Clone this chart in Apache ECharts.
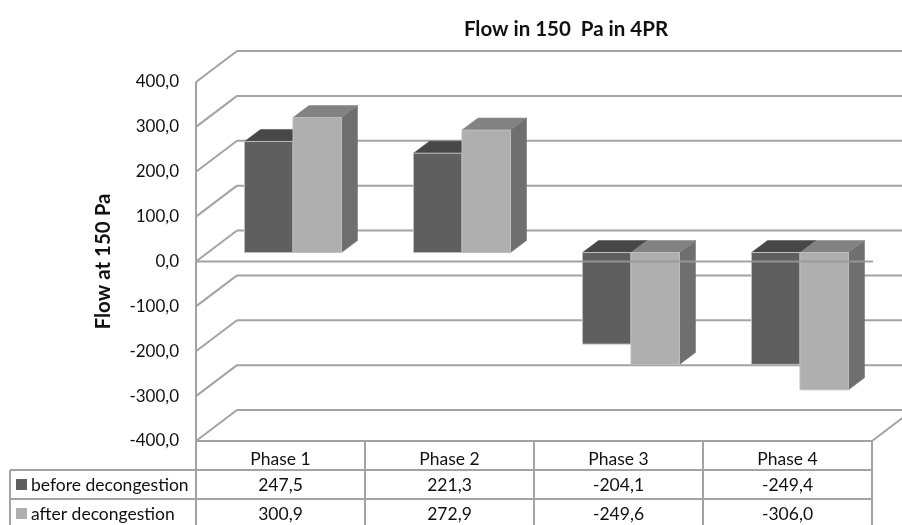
<!DOCTYPE html>
<html>
<head>
<meta charset="utf-8">
<style>html,body{margin:0;padding:0;background:#fff}#c{width:902px;height:525px}</style>
<script src="https://cdn.jsdelivr.net/npm/echarts@6/dist/echarts.min.js"></script>
</head>
<body>
<div id="c"></div>
<script>
const categories = ['Phase 1', 'Phase 2', 'Phase 3', 'Phase 4'];
const before = [247.5, 221.3, -204.1, -249.4];
const after = [300.9, 272.9, -249.6, -306.0];
const seriesNames = ['before decongestion', 'after decongestion'];
const ticks = [400, 300, 200, 100, 0, -100, -200, -300, -400];

const FONT = 'Lato, Carlito, "Open Sans", sans-serif';
const GRID = '#a3a3a3', INK = '#111111';
const WALL_DX = 41, WALL_DY = -31;
const BAR_DX = 12.5, BAR_DY = -9, BAR_W = 48.5, DEPTH_DX = 16, DEPTH_DY = -12;
const ROWS_Y = [470, 499, 527];
const TABLE_LEFT = 10;
const TEXT_SIZE = 17.5, BOLD_SIZE = 20.5;
const comma = v => v.toFixed(1).replace('.', ',');

function line(x1, y1, x2, y2, w) {
  return { type: 'line', shape: { x1, y1, x2, y2 }, style: { stroke: GRID, lineWidth: w || 2 } };
}
function poly(points, fill, stroke) {
  return { type: 'polygon', shape: { points }, style: { fill, stroke: stroke || fill, lineWidth: stroke ? 1 : 0.5 } };
}
function txt(x, y, text, align) {
  return { type: 'text', style: { x, y, text, fill: INK, font: TEXT_SIZE + 'px ' + FONT, align: align || 'center', verticalAlign: 'middle' } };
}
function barRender(side, front, top, sideCol) {
  return function (params, api) {
    const i = api.value(0), v = api.value(1);
    const c0 = api.coord([i, 0]), cv = api.coord([i, v]);
    const x0 = c0[0] + BAR_DX + (side === 0 ? -BAR_W : 0), x1 = x0 + BAR_W;
    const yT = Math.min(c0[1], cv[1]) + BAR_DY, yB = Math.max(c0[1], cv[1]) + BAR_DY;
    return { type: 'group', children: [
      poly([[x1, yT], [x1 + DEPTH_DX, yT + DEPTH_DY], [x1 + DEPTH_DX, yB + DEPTH_DY], [x1, yB]], sideCol),
      poly([[x0, yT], [x0 + DEPTH_DX, yT + DEPTH_DY], [x1 + DEPTH_DX, yT + DEPTH_DY], [x1, yT]], top),
      poly([[x0, yT], [x1, yT], [x1, yB], [x0, yB]], front, '#bdbdbd')
    ] };
  };
}

const chart = echarts.init(document.getElementById('c'), null, { renderer: 'canvas' });
chart.setOption({
  animation: false,
  backgroundColor: '#ffffff',
  title: {
    text: 'Flow in 150  Pa in 4PR', left: 561, top: 14, textAlign: 'center',
    textStyle: { fontFamily: FONT, fontSize: BOLD_SIZE, fontWeight: 'bold', color: INK }
  },
  grid: { left: 196, right: 30, top: 82, bottom: 84 },
  xAxis: {
    type: 'category', data: categories, position: 'bottom',
    axisLine: { show: false, onZero: false }, axisTick: { show: false },
    axisLabel: { margin: 9, fontFamily: FONT, fontSize: TEXT_SIZE, color: INK },
    splitLine: { show: false }
  },
  yAxis: {
    type: 'value', min: -400, max: 400, interval: 100,
    name: 'Flow at 150 Pa', nameLocation: 'middle', nameGap: 82, nameRotate: 90,
    nameTextStyle: { fontFamily: FONT, fontSize: BOLD_SIZE, fontWeight: 'bold', color: INK },
    axisLine: { show: false }, axisTick: { show: false }, splitLine: { show: false },
    axisLabel: { margin: 17, fontFamily: FONT, fontSize: 17, color: INK, formatter: comma, padding: [2, 0, 0, 0] }
  },
  series: [
    {
      name: 'walls', type: 'custom', z: 1, silent: true,
      data: ticks.map(t => [0, t]), encode: { x: 0, y: 1 },
      renderItem(params, api) {
        const c = api.coord([0, api.value(1)]);
        const cs = params.coordSys, L = cs.x, R = cs.x + cs.width;
        const kids = [
          line(L, c[1], L + WALL_DX, c[1] + WALL_DY),
          line(L + WALL_DX, c[1] + WALL_DY, R + WALL_DX, c[1] + WALL_DY)
        ];
        if (api.value(1) === -400) kids.push(line(L, c[1], R, c[1]), line(R, c[1], R + WALL_DX, c[1] + WALL_DY));
        return { type: 'group', children: kids };
      }
    },
    {
      name: seriesNames[0], type: 'custom', z: 3, silent: true,
      data: before.map((v, i) => [i, v]), encode: { x: 0, y: 1 },
      renderItem: barRender(0, '#5f5f5f', '#474747', '#474747')
    },
    {
      name: seriesNames[1], type: 'custom', z: 4, silent: true,
      data: after.map((v, i) => [i, v]), encode: { x: 0, y: 1 },
      renderItem: barRender(1, '#afafaf', '#828282', '#6f6f6f')
    },
    {
      name: 'zero plane', type: 'custom', z: 5, silent: true,
      data: [[0, 0]], encode: { x: 0, y: 1 },
      renderItem(params, api) {
        const c = api.coord([0, 0]), cs = params.coordSys;
        return { type: 'group', children: [
          { type: 'line', shape: { x1: cs.x, y1: c[1], x2: cs.x + cs.width + 1, y2: c[1] },
            style: { stroke: '#999999', lineWidth: 2, opacity: 0.9 } }
        ] };
      }
    },
    {
      name: 'table', type: 'custom', z: 6, silent: true,
      data: categories.map((n, i) => [i, before[i], after[i]]), encode: { x: 0, y: 1 },
      renderItem(params, api) {
        const i = api.value(0), cs = params.coordSys;
        const cx = api.coord([i, 0])[0], band = cs.width / categories.length;
        const right = cx + band / 2, bottom = ROWS_Y[2];
        const kids = [
          line(right, cs.y + cs.height, right, bottom),
          txt(cx, (ROWS_Y[0] + ROWS_Y[1]) / 2 + 1, comma(api.value(1))),
          txt(cx, (ROWS_Y[1] + ROWS_Y[2]) / 2 + 1, comma(api.value(2)))
        ];
        if (i === 0) {
          kids.push(
            line(cs.x, cs.y, cs.x, bottom),
            line(TABLE_LEFT, ROWS_Y[0], TABLE_LEFT, bottom)
          );
          ROWS_Y.slice(0, 2).forEach((y, r) => {
            kids.push(
              line(TABLE_LEFT, y, cs.x + cs.width, y),
              { type: 'rect', shape: { x: 16, y: y + 9, width: 11, height: 11 },
                style: { fill: r === 0 ? '#5f5f5f' : '#afafaf' } },
              txt(31, y + 15, seriesNames[r], 'left')
            );
          });
        }
        return { type: 'group', children: kids };
      }
    }
  ]
});
</script>
</body>
</html>
